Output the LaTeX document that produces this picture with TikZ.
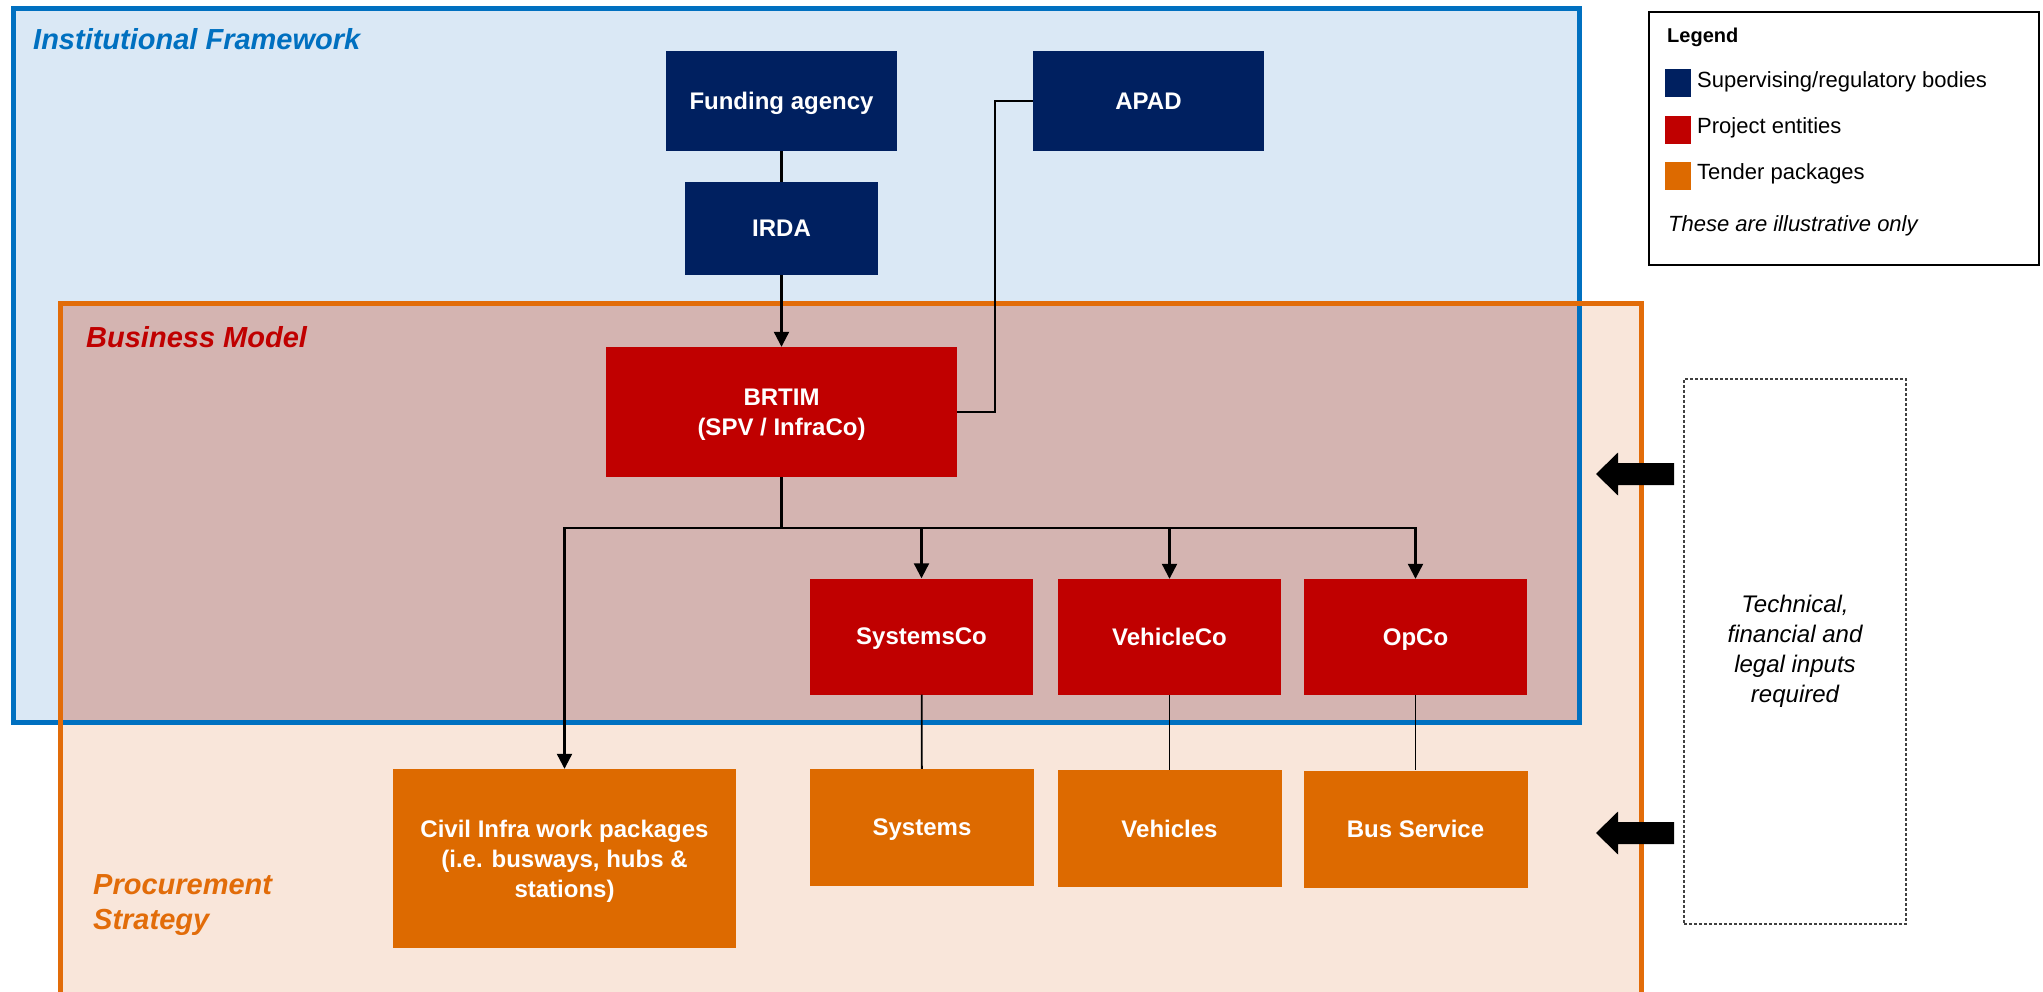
\documentclass[tikz,border=0pt]{standalone}
\usepackage{fontspec}
\setmainfont{Liberation Sans}
\usetikzlibrary{arrows.meta}
\definecolor{navy}{RGB}{0,32,96}
\definecolor{pred}{RGB}{192,0,0}
\definecolor{porange}{RGB}{221,106,0}
\definecolor{lblue}{RGB}{218,232,245}
\definecolor{peach}{RGB}{249,230,218}
\definecolor{overlap}{RGB}{212,180,177}
\definecolor{bluef}{RGB}{0,112,192}
\definecolor{orangef}{RGB}{226,108,9}
\tikzset{
  box/.style={rectangle, inner sep=2pt, text=white, align=center, text depth=0pt,
    font=\bfseries\fontsize{24}{30}\selectfont},
  navybox/.style={box, fill=navy},
  redbox/.style={box, fill=pred},
  orangebox/.style={box, fill=porange},
  sectitle/.style={inner sep=0pt, anchor=base west, font=\bfseries\itshape\fontsize{29}{35}\selectfont},
  legtext/.style={inner sep=0pt, anchor=base west, font=\fontsize{22}{26}\selectfont},
  legsq/.style={inner sep=0pt, minimum width=26pt, minimum height=28pt, anchor=north west},
  conn/.style={draw=black, line width=2.2pt},
  thinconn/.style={draw=black, line width=1.8pt},
  arr/.style={conn, -{Triangle[length=15pt,width=15pt]}},
  blockarrow/.style={fill=black}
}
\begin{document}
\begin{tikzpicture}[x=1pt,y=-1pt]
\clip (0,0) rectangle (2043,992);
\fill[white] (0,0) rectangle (2043,992);
% frames
\fill[lblue] (13,8.5) rectangle (1579,722);
\fill[peach] (60,304) rectangle (1641,1010);
\fill[overlap] (60,304) rectangle (1579,722);
\draw[bluef, line width=5pt] (13,8.5) rectangle (1579,722);
\draw[orangef, line width=5pt] (60,304) rectangle (1641,1010);
% section titles
\node[sectitle, text=bluef] (tif) at (33,50) {Institutional Framework};
\node[sectitle, text=pred] (tbm) at (86,348) {Business Model};
\node[sectitle, text=orangef] (tps1) at (93,894) {Procurement};
\node[sectitle, text=orangef] (tps2) at (93,929) {Strategy};
% boxes
\node[navybox, minimum width=231pt, minimum height=100pt] (fund) at (781.5,101) {Funding agency};
\node[navybox, minimum width=193pt, minimum height=93pt] (irda) at (781.5,228.5) {IRDA};
\node[navybox, minimum width=231pt, minimum height=100pt] (apad) at (1148.5,101) {APAD};
\node[redbox, minimum width=351pt, minimum height=130pt] (brtim) at (781.5,412) {BRTIM\\(SPV / InfraCo)};
\node[redbox, minimum width=223pt, minimum height=116pt] (sysco) at (921.5,636.5) {SystemsCo};
\node[redbox, minimum width=223pt, minimum height=116pt] (vehco) at (1169.5,637) {VehicleCo};
\node[redbox, minimum width=223pt, minimum height=116pt] (opco) at (1415.5,637) {OpCo};
\node[orangebox, minimum width=343pt, minimum height=179pt] (civil) at (564.5,858.5) {Civil Infra work packages\\(i.e. busways, hubs \&\\stations)};
\node[orangebox, minimum width=224pt, minimum height=117pt] (sys) at (922,827.5) {Systems};
\node[orangebox, minimum width=224pt, minimum height=117pt] (veh) at (1169.5,828.5) {Vehicles};
\node[orangebox, minimum width=224pt, minimum height=117pt] (bus) at (1415.5,829) {Bus Service};
% connectors
\draw[conn] (fund) -- (irda);
\draw[arr] (irda) -- (brtim);
\draw[thinconn] (apad.west) -- ++(-38,0) |- (brtim.east);
\path (brtim.south) ++(0,51) coordinate (busj);
\draw[conn] (brtim.south) -- (busj);
\draw[arr] (busj) -| (civil.north);
\draw[arr] (busj) -| (sysco.north);
\draw[arr] (busj) -| (vehco.north);
\draw[arr] (busj) -| (opco.north);
\draw[thinconn] (sysco) -- (sys);
\draw[thinconn] (vehco) -- (veh);
\draw[thinconn] (opco) -- (bus);
% legend
\draw[line width=1.5pt] (1649,12) rectangle (2039,265);
\node[inner sep=0pt, anchor=base west, font=\bfseries\fontsize{20}{24}\selectfont] (lgt) at (1667,43) {Legend};
\node[legsq, fill=navy] (lg1) at (1665,69) {};
\node[legsq, fill=pred] (lg2) at (1665,116) {};
\node[legsq, fill=porange] (lg3) at (1665,162) {};
\node[legtext] (lt1) at (1697,88) {Supervising/regulatory bodies};
\node[legtext] (lt2) at (1697,134) {Project entities};
\node[legtext] (lt3) at (1697,180) {Tender packages};
\node[legtext, font=\itshape\fontsize{22}{26}\selectfont] (lt4) at (1668,232) {These are illustrative only};
% inputs box
\node[draw=black!75, dash pattern=on 3pt off 2pt, line width=1.3pt, minimum width=222pt, minimum height=545pt,
  align=center, font=\itshape\fontsize{24}{30}\selectfont] (inputs) at (1795,651.5) {Technical,\\financial and\\legal inputs\\required};
% block arrows
\fill[blockarrow] (1596,474) -- (1618,452.5) -- (1618,463) -- (1674,463) -- (1674,485) -- (1618,485) -- (1618,495.5) -- cycle;
\fill[blockarrow] (1596,833) -- (1618,811.5) -- (1618,822) -- (1674,822) -- (1674,844) -- (1618,844) -- (1618,854.5) -- cycle;
\end{tikzpicture}
\end{document}
